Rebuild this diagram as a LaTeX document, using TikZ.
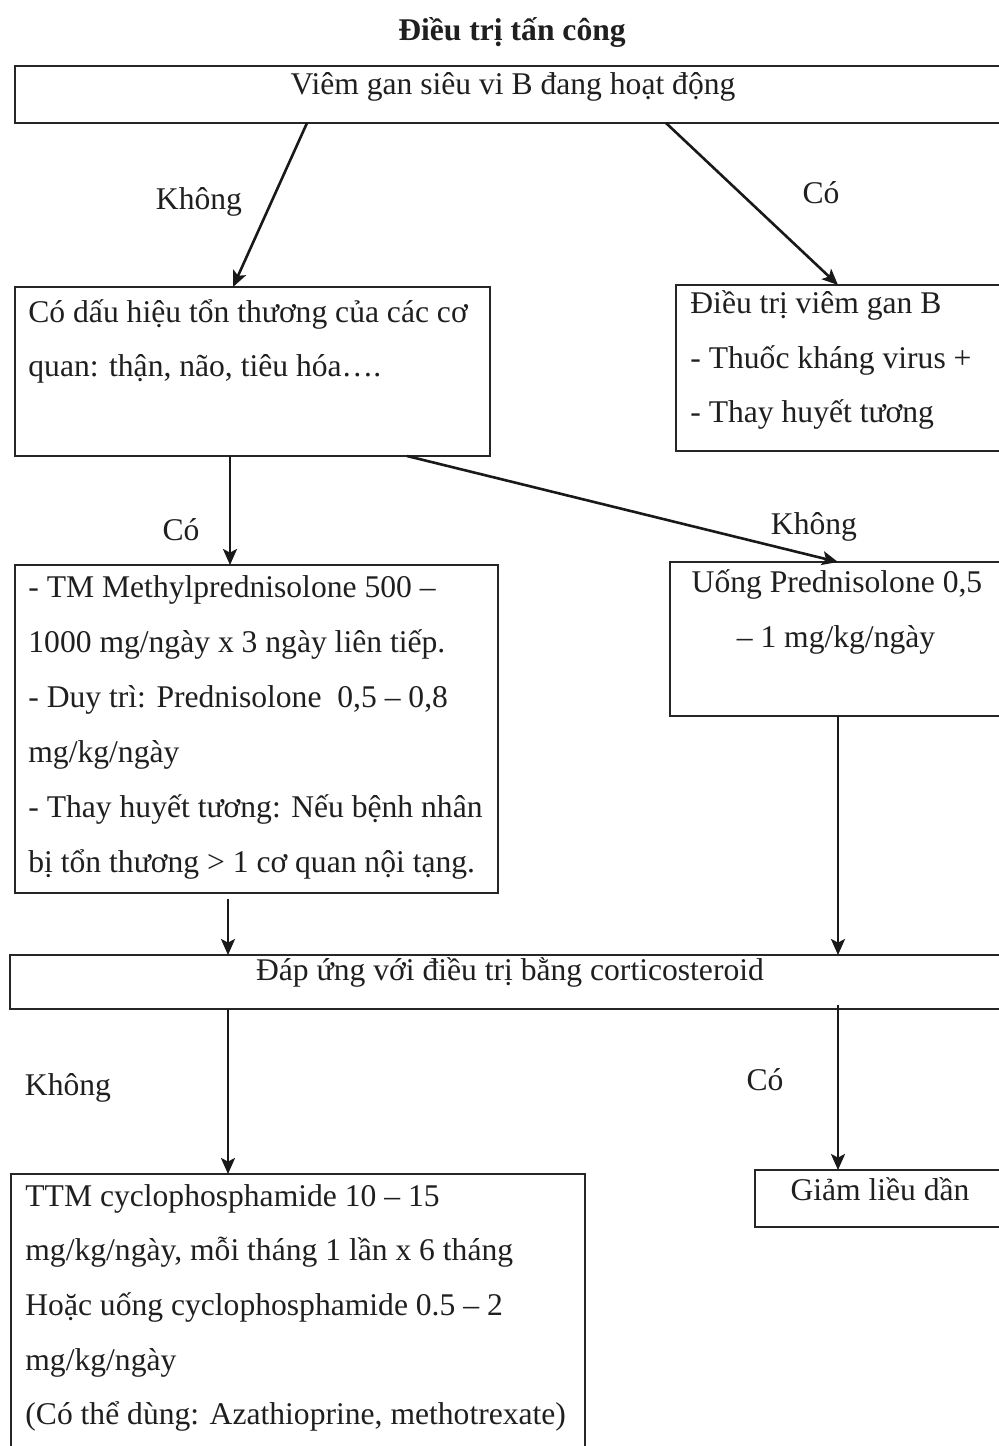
\documentclass[tikz,border=0pt]{standalone}
\usepackage{fontspec}
\setmainfont{Liberation Serif}
\usetikzlibrary{arrows.meta}
\begin{document}
\begin{tikzpicture}[x=0.5pt,y=-0.5pt,
  box/.style={draw=black!85, line width=0.7pt, inner sep=0pt, outer sep=0pt, anchor=north west},
  txt/.style={inner sep=0pt, font=\fontsize{15.8}{27.5}\selectfont, text=black!88},
  tl/.style={txt, anchor=base west},
  tc/.style={txt, anchor=base},
  conn/.style={line width=1.3pt, draw=black!90, -{Stealth[length=8pt,width=7pt,inset=1.8pt]}}]
\useasboundingbox (0,0) rectangle (999,1446);
\fill[white] (0,0) rectangle (999,1446);
\clip (0,0) rectangle (999,1446);

% title
\node[tc, font=\bfseries\fontsize{15.8}{20}\selectfont] (title) at (512,40) {Điều trị tấn công};

% boxes
\node[box, minimum width=498pt, minimum height=28.5pt] (b1) at (15,66) {};
\node[box, minimum width=237.5pt, minimum height=84.5pt] (b2) at (15,287) {};
\node[box, minimum width=162.5pt, minimum height=83pt] (b3) at (676,285) {};
\node[box, minimum width=241.5pt, minimum height=164pt] (b4) at (15,565) {};
\node[box, minimum width=165.5pt, minimum height=77pt] (b5) at (670,562) {};
\node[box, minimum width=499pt, minimum height=27pt] (b6) at (10,955) {};
\node[box, minimum width=287pt, minimum height=143pt] (b7) at (11,1174) {};
\node[box, minimum width=125pt, minimum height=28.5pt] (b8) at (755,1170) {};

% box texts
\node[tc] (t1) at (513,94) {Viêm gan siêu vi B đang hoạt động};

\node[tl] (t2a) at (28,322) {Có dấu hiệu tổn thương của các cơ};
\node[tl] (t2b) at (28,376) {quan: thận, não, tiêu hóa….};

\node[tl] (t3a) at (690,313) {Điều trị viêm gan B};
\node[tl] (t3b) at (690,368) {- Thuốc kháng virus +};
\node[tl] (t3c) at (690,422) {- Thay huyết tương};

\node[tl] (t4a) at (28,597) {- TM Methylprednisolone 500 –};
\node[tl] (t4b) at (28,652) {1000 mg/ngày x 3 ngày liên tiếp.};
\node[tl] (t4c) at (28,707) {- Duy trì: Prednisolone \ 0,5 – 0,8};
\node[tl] (t4d) at (28,762) {mg/kg/ngày};
\node[tl] (t4e) at (28,817) {- Thay huyết tương: Nếu bệnh nhân};
\node[tl] (t4f) at (28,872) {bị tổn thương > 1 cơ quan nội tạng.};

\node[tc] (t5a) at (837,592) {Uống Prednisolone 0,5};
\node[tc] (t5b) at (836,647) {– 1 mg/kg/ngày};

\node[tc] (t6) at (510,980) {Đáp ứng với điều trị bằng corticosteroid};

\node[tl] (t7a) at (25,1206) {TTM cyclophosphamide 10 – 15};
\node[tl] (t7b) at (25,1260) {mg/kg/ngày, mỗi tháng 1 lần x 6 tháng};
\node[tl] (t7c) at (25,1315) {Hoặc uống cyclophosphamide 0.5 – 2};
\node[tl] (t7d) at (25,1370) {mg/kg/ngày};
\node[tl] (t7e) at (25,1424) {(Có thể dùng: Azathioprine, methotrexate)};

\node[tc] (t8) at (880,1200) {Giảm liều dần};

% labels
\node[tc] (l1) at (199,209) {Không};
\node[tc] (l2) at (821,203) {Có};
\node[tc] (l3) at (181,540) {Có};
\node[tc] (l4) at (814,534) {Không};
\node[tc] (l5) at (68,1095) {Không};
\node[tc] (l6) at (765,1090) {Có};

% connectors
\draw[conn] ([xshift=146pt]b1.south west) -- ([xshift=109pt]b2.north west);
\draw[conn] ([xshift=325.5pt]b1.south west) -- ([xshift=81pt]b3.north west);
\draw[conn] ([xshift=107.5pt]b2.south west) -- ([xshift=107.5pt]b4.north west);
\draw[conn] ([xshift=196pt]b2.south west) -- ([xshift=84pt]b5.north west);
\draw[conn] ([xshift=106.5pt,yshift=-3pt]b4.south west) -- ([xshift=109pt]b6.north west);
\draw[conn] ([xshift=84pt]b5.south west) -- ([xshift=414pt]b6.north west);
\draw[conn] ([xshift=109pt]b6.south west) -- ([xshift=108.5pt]b7.north west);
\draw[conn] ([xshift=414pt,yshift=2pt]b6.south west) -- ([xshift=41.5pt]b8.north west);
\end{tikzpicture}
\end{document}
